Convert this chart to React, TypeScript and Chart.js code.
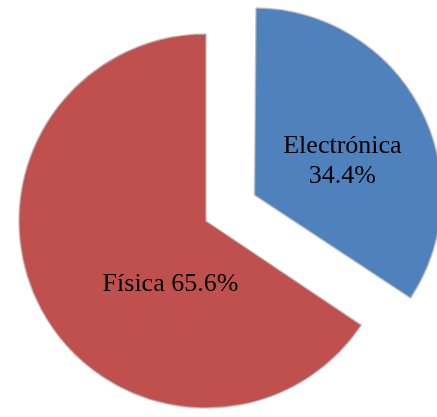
import React, { useEffect, useRef } from "react";
import { Chart, registerables } from "chart.js";

Chart.register(...registerables);

const categories = ["Electrónica", "Física"];
const values = [34.4, 65.6];
const labelLines = [["Electrónica", "34.4%"], ["Física 65.6%"]];
const colors = ["#4F81BD", "#C0504D"];
const offsets = [220, 0];
// label position relative to the slice apex, as fractions of the radius
const labelFx = [0.47, -0.19];
const labelFy = [-0.18, 0.34];

// keep exploded slices at the same radius as the rest
const radiusFixPlugin = {
  id: "radiusFix",
  afterDatasetUpdate(chart: any, args: any) {
    const meta = chart.getDatasetMeta(args.index);
    meta.data.forEach((arc: any, i: number) => {
      const t = (offsets[i] || 0) / 4;
      const circ = arc.endAngle - arc.startAngle;
      const fix = 1 - Math.sin(Math.min(Math.PI, circ || 0));
      arc.outerRadius = arc.outerRadius - t * fix;
    });
  },
};

const labelPlugin = {
  id: "sliceLabels",
  afterDatasetsDraw(chart: any) {
    const ctx = chart.ctx;
    const meta = chart.getDatasetMeta(0);
    ctx.save();
    ctx.font = '26px "Liberation Serif", "Times New Roman", serif';
    ctx.fillStyle = "#000";
    ctx.textAlign = "center";
    ctx.textBaseline = "middle";
    meta.data.forEach((arc: any, i: number) => {
      const p = arc.getProps(["x", "y", "startAngle", "endAngle", "outerRadius"], true);
      const half = (p.startAngle + p.endAngle) / 2;
      const t = (offsets[i] || 0) / 4;
      const cx = p.x + Math.cos(half) * t;
      const cy = p.y + Math.sin(half) * t;
      const lx = cx + labelFx[i] * 187;
      const ly = cy + labelFy[i] * 187;
      const lines = labelLines[i];
      const lh = 30;
      lines.forEach((line, j) => {
        ctx.fillText(line, lx, ly + (j - (lines.length - 1) / 2) * lh);
      });
    });
    ctx.restore();
  },
};

export default function App() {
  const ref = useRef<HTMLCanvasElement | null>(null);
  useEffect(() => {
    document.body.style.margin = "0";
    const chart = new Chart(ref.current as HTMLCanvasElement, {
      type: "pie",
      data: {
        labels: categories,
        datasets: [
          {
            data: values,
            backgroundColor: colors,
            borderColor: "rgba(185,185,185,0.75)",
            borderWidth: 1.5,
            offset: offsets,
          },
        ],
      },
      options: {
        animation: false,
        responsive: false,
        radius: 187,
        layout: { padding: { left: 0, right: 25, top: 25, bottom: 0 } },
        plugins: { legend: { display: false }, tooltip: { enabled: false } },
      },
      plugins: [radiusFixPlugin, labelPlugin],
    });
    return () => chart.destroy();
  }, []);
  return <canvas ref={ref} width={437} height={417} style={{ display: "block" }} />;
}
